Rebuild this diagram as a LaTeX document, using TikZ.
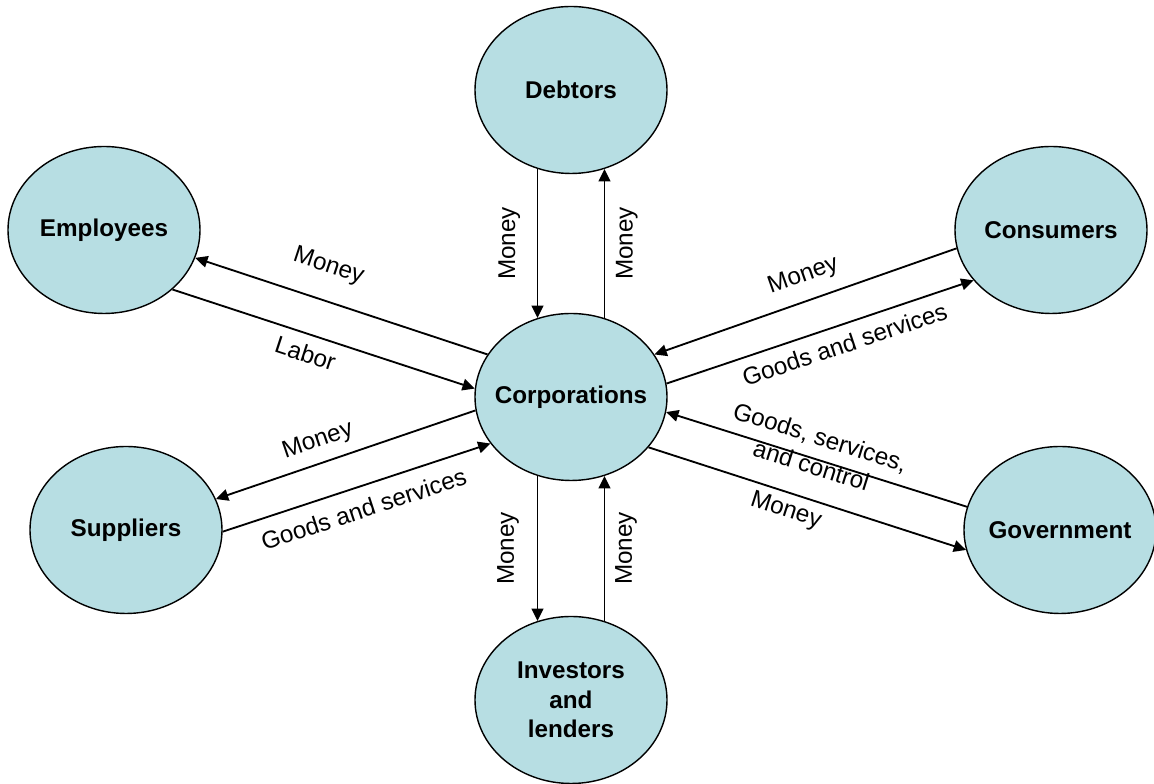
\documentclass[tikz,border=0pt]{standalone}
\usepackage{fontspec}
\setmainfont{Liberation Sans}
\usepackage{tikz}
\usetikzlibrary{shapes.geometric,arrows.meta}
\definecolor{partyfill}{RGB}{183,222,227}

\begin{document}
\begin{tikzpicture}[>={Triangle[length=7pt,width=6.6pt]}]
			\tikzstyle{every node}=[font=\fontsize{13.8}{16.8}\selectfont]
			\tikzstyle{party}=[ellipse, draw, line width=0.8pt, fill=partyfill, minimum width=3.84cm, minimum height=3.34cm, inner xsep=-4mm, inner ysep=0pt, align=center, font=\fontsize{13.8}{16.8}\selectfont\bfseries]
			\tikzstyle{flow}=[->, line width=1.05pt]
			\tikzstyle{flowtext}=[sloped, inner sep=1pt, align=center]
			\useasboundingbox (0, 0) rectangle (23.08, 15.68);
			\node[party] (Debtors) at (11.42, 13.88) {Debtors};
			\node[party] (Employees) at (2.08, 11.08) {Employees};
			\node[party] (Consumers) at (21.02, 11.08) {Consumers};
			\node[party] (Corporations) at (11.42, 7.74) {Corporations};
			\node[party] (Suppliers) at (2.52, 5.08) {Suppliers};
			\node[party] (Government) at (21.2, 5.08) {Government};
			\node[party] (Investors) at (11.42, 1.68) {Investors\\and\\lenders};

			\draw[flow, <-](Corporations.113)--node[flowtext, above=8.4pt]{Money}(Debtors.-113);
			\draw[flow](Corporations.67)--node[flowtext, below=5pt]{Money}(Debtors.-67);
			\draw[flow, <-](Investors.113)--node[flowtext, above=9pt]{Money}(Corporations.-113);
			\draw[flow](Investors.67)--node[flowtext, below=4.5pt]{Money}(Corporations.-67);

			\draw[flow](Corporations.153)--node[flowtext, pos=0.58, above=11.4pt]{Money}(Employees.-17);
			\draw[flow](Employees.-41)--node[flowtext, pos=0.46, below=4.3pt]{Labor}(Corporations.175);
			\draw[flow](Corporations.188)--node[flowtext, pos=0.58, above=4.7pt]{Money}(Suppliers.19);
			\draw[flow](Suppliers.-1)--node[flowtext, below=6.3pt]{Goods and services}(Corporations.210);

			\draw[flow](Consumers.191)--node[flowtext, pos=0.48, above=6.4pt]{Money}(Corporations.27);
			\draw[flow](Corporations.8)--node[flowtext, pos=0.56, below=4.5pt]{Goods and services}(Consumers.213);
			\draw[flow](Government.166)--node[flowtext, pos=0.51, above=-10.5pt]{Goods, services,\\and control}(Corporations.-9);
			\draw[flow](Corporations.-33)--node[flowtext, pos=0.45, below=2.8pt]{Money}(Government.192);
		\end{tikzpicture}
\end{document}
